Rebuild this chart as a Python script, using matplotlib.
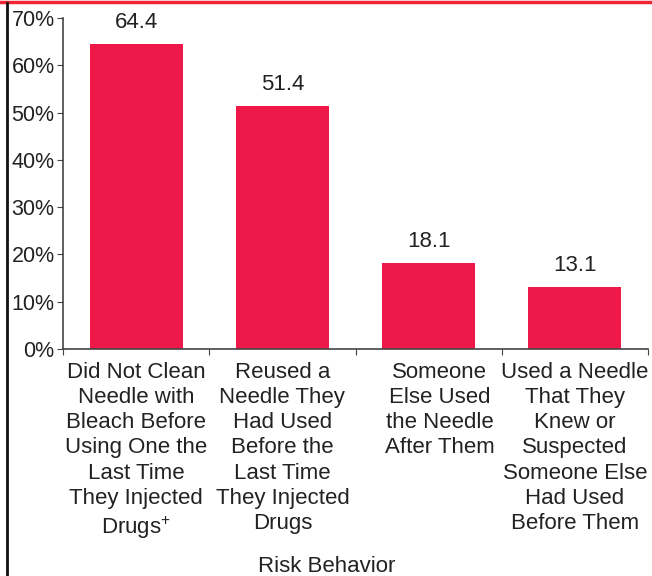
import matplotlib.pyplot as plt
import matplotlib.transforms as mtransforms
from matplotlib.lines import Line2D

plt.rcParams["font.family"] = ["Liberation Sans", "DejaVu Sans"]
plt.rcParams["mathtext.fontset"] = "custom"
plt.rcParams["mathtext.rm"] = "Liberation Sans"
plt.rcParams["mathtext.bf"] = "Liberation Sans"

# Datos
categorias = [
    "Did Not Clean\nNeedle with\nBleach Before\nUsing One the\nLast Time\nThey Injected\nDrugs$^{\\mathbf{+}}$",
    "Reused a\nNeedle They\nHad Used\nBefore the\nLast Time\nThey Injected\nDrugs",
    "Someone\nElse Used\nthe Needle\nAfter Them",
    "Used a Needle\nThat They\nKnew or\nSuspected\nSomeone Else\nHad Used\nBefore Them",
]
porcentajes = [64.4, 51.4, 18.1, 13.1]
yticks = [0, 10, 20, 30, 40, 50, 60, 70]

color_barra = "#EE1849"
color_texto = "#222222"
color_eje = "#444444"
fs = 16

fig = plt.figure(figsize=(6.52, 5.76), dpi=100)
ax = fig.add_axes([63 / 652, 1 - 349 / 576, 585 / 652, 331 / 576])

x = list(range(len(categorias)))
ax.bar(x, porcentajes, width=0.635, color=color_barra, zorder=2)

for xi, v in zip(x, porcentajes):
    ax.annotate(f"{v:.1f}", (xi, v), xytext=(0, 15.5), textcoords="offset points",
                ha="center", va="center", fontsize=fs, color=color_texto)

ax.set_xlim(-0.5, len(categorias) - 0.5)
ax.set_ylim(0, 70)
ax.set_yticks(yticks)
ax.set_yticklabels([f"{t}%" for t in yticks], fontsize=15.5, color=color_texto)

# ticks en los limites de cada categoria
ax.set_xticks([i - 0.5 for i in range(len(categorias) + 1)])
ax.set_xticklabels([])
ax.tick_params(axis="x", direction="out", length=4.5, color=color_eje)
ax.tick_params(axis="y", direction="out", length=4.5, color=color_eje, pad=1.5)

# etiquetas de categoria
trans = mtransforms.blended_transform_factory(ax.transData, ax.transAxes)
desplaz = [0, 0, 0.075, 0]
for xi, cat, d in zip(x, categorias, desplaz):
    ax.annotate(cat, (xi + d, 0), xycoords=trans, xytext=(0, -9),
                textcoords="offset points", ha="center", va="top",
                fontsize=fs, color=color_texto, linespacing=1.27,
                annotation_clip=False)

for s in ["top", "right"]:
    ax.spines[s].set_visible(False)
for s in ["left", "bottom"]:
    ax.spines[s].set_color(color_eje)
    ax.spines[s].set_linewidth(1.2)

fig.text(327 / 652, 1 - 566 / 576, "Risk Behavior", ha="center", va="center",
         fontsize=fs, color=color_texto)

# marco: linea roja arriba, linea negra a la izquierda
fig.add_artist(Line2D([0, 1], [1 - 1.5 / 576, 1 - 1.5 / 576], transform=fig.transFigure,
                      color="#EE2633", linewidth=2.5))
fig.add_artist(Line2D([7 / 652, 7 / 652], [0, 1 - 3 / 576], transform=fig.transFigure,
                      color="#111111", linewidth=2.0))

plt.savefig("out.png", dpi=100)
plt.close()
